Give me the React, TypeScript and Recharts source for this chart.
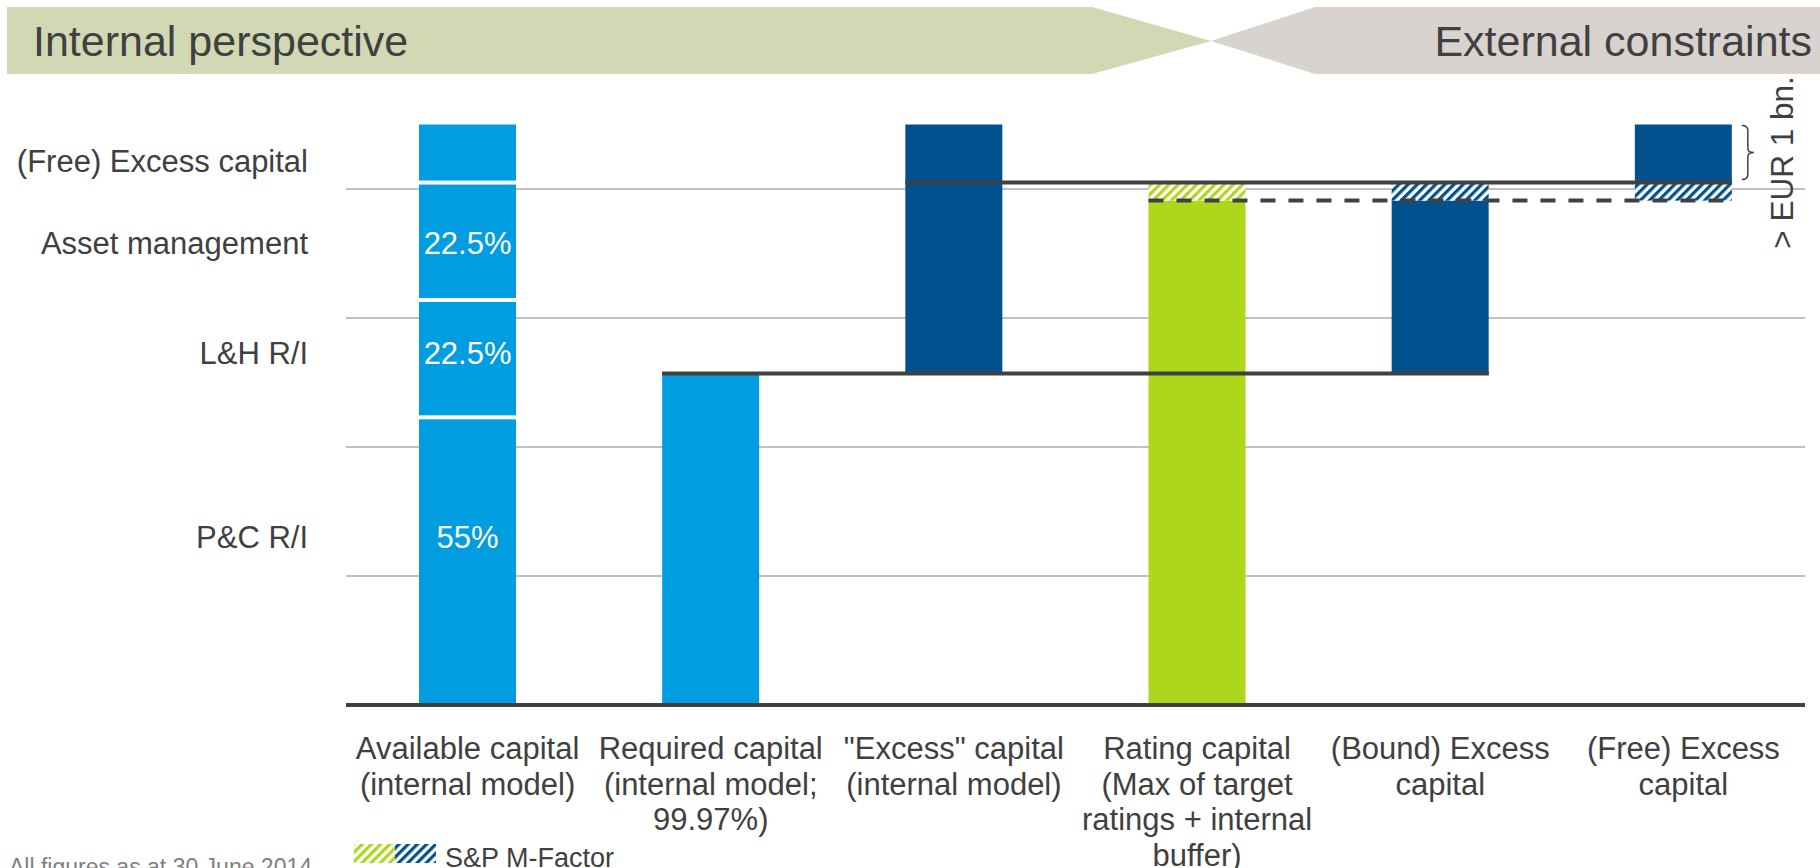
import React from "react";
import {
  ComposedChart,
  Bar,
  XAxis,
  YAxis,
  CartesianGrid,
  ReferenceLine,
  ReferenceDot,
} from "recharts";

const FONT = '"Liberation Sans", Arial, sans-serif';
const TEXT = "#404040";
const LIGHT_BLUE = "#009EE0";
const DARK_BLUE = "#00518E";
const GREEN = "#ADD71A";

// x-axis categories (line breaks as in the slide)
const categories = [
  "Available capital\n(internal model)",
  "Required capital\n(internal model;\n99.97%)",
  '"Excess" capital\n(internal model)',
  "Rating capital\n(Max of target\nratings + internal\nbuffer)",
  "(Bound) Excess\ncapital",
  "(Free) Excess\ncapital",
];

// stacked segments, one value per category
const baseGap = [0, 0, 2.57, 0, 2.57, 3.91];
const pcRI = [2.23, 0, 0, 0, 0, 0];
const lhRI = [0.91, 0, 0, 0, 0, 0];
const assetMgmt = [0.91, 0, 0, 0, 0, 0];
const freeShare = [0.45, 0, 0, 0, 0, 0];
const required = [0, 2.57, 0, 0, 0, 0];
const excessDark = [0, 0, 1.93, 0, 1.34, 0];
const rating = [0, 0, 0, 3.91, 0, 0];
const mFactorGreen = [0, 0, 0, 0.14, 0, 0];
const mFactorBlue = [0, 0, 0, 0, 0.14, 0.14];
const freeTop = [0, 0, 0, 0, 0, 0.45];

// left-hand row labels and the share labels inside the first bar
const rowLabels = ["(Free) Excess capital", "Asset management", "L&H R/I", "P&C R/I"];
const rowLabelValues = [4.22, 3.58, 2.73, 1.3];
const shareLabels = ["22.5%", "22.5%", "55%"];
const shareLabelValues = [3.58, 2.73, 1.3];
const gridValues = [1, 2, 3, 4];

// connector lines between bars
const connectorLevels = [2.57, 4.05, 3.91];
const connectorFrom = [1, 2, 3];
const connectorTo = [4, 5, 5];

const HALF_BAR = 0.2; // half bar width in category units
const BAR_PX = 97;

const rows = categories.map((name, i) => ({
  x: i,
  name,
  base: baseGap[i],
  pc: pcRI[i],
  lh: lhRI[i],
  am: assetMgmt[i],
  free: freeShare[i],
  req: required[i],
  dark: excessDark[i],
  rating: rating[i],
  mGreen: mFactorGreen[i],
  mBlue: mFactorBlue[i],
  top: freeTop[i],
}));

const norm = (p: any) => {
  const left = Math.min(p.x, p.x + p.width);
  const top = Math.min(p.y, p.y + p.height);
  return { left, top, w: Math.abs(p.width), h: Math.abs(p.height) };
};

const SegShape = (props: any) => {
  const { fill, trimTop = 0, trimBottom = 0 } = props;
  const { left, top, w, h } = norm(props);
  if (!h || !w) return <g />;
  return (
    <rect
      x={left}
      y={top + trimTop}
      width={w}
      height={Math.max(0, h - trimTop - trimBottom)}
      fill={fill}
    />
  );
};

const FreeTopShape = (props: any) => {
  const { fill } = props;
  const { left, top: t, w, h } = norm(props);
  if (!h || !w) return <g />;
  const bx = left + w + 10;
  const top = t + 1;
  const bottom = t + h - 3;
  const mid = (top + bottom) / 2;
  const d = `M${bx},${top} Q${bx + 6},${top} ${bx + 6},${top + 5} L${bx + 6},${mid - 4} Q${bx + 6},${mid} ${bx + 12},${mid} Q${bx + 6},${mid} ${bx + 6},${mid + 4} L${bx + 6},${bottom - 5} Q${bx + 6},${bottom} ${bx},${bottom}`;
  return (
    <g>
      <rect x={left} y={t} width={w} height={h} fill={fill} />
      <path d={d} fill="none" stroke={TEXT} strokeWidth={1.5} />
      <text
        transform={`translate(${left + w + 61}, ${mid + 10}) rotate(-90)`}
        textAnchor="middle"
        fontSize={31.5}
        fontFamily={FONT}
        fill={TEXT}
      >
        {"> EUR 1 bn."}
      </text>
    </g>
  );
};

const CategoryTick = (props: any) => {
  const { x, y, payload } = props;
  const lines = (categories[payload.value] || "").split("\n");
  return (
    <text x={x} y={y} textAnchor="middle" fontSize={31} fontFamily={FONT} fill={TEXT}>
      {lines.map((l, i) => (
        <tspan key={i} x={x} y={y + 54 + i * 35.5}>
          {l}
        </tspan>
      ))}
    </text>
  );
};

export default function App() {
  return (
    <div
      style={{
        position: "absolute",
        left: 0,
        top: 0,
        width: 1820,
        height: 868,
        background: "#fff",
        fontFamily: FONT,
        overflow: "hidden",
      }}
    >
      <svg width={0} height={0} style={{ position: "absolute" }}>
        <defs>
          <pattern id="hatchGreen" width="6.5" height="6.5" patternUnits="userSpaceOnUse" patternTransform="rotate(45)">
            <rect width="6.5" height="6.5" fill="#fff" />
            <rect width="3.2" height="6.5" fill={GREEN} />
          </pattern>
          <pattern id="hatchBlue" width="6.5" height="6.5" patternUnits="userSpaceOnUse" patternTransform="rotate(45)">
            <rect width="6.5" height="6.5" fill="#fff" />
            <rect width="3.2" height="6.5" fill={DARK_BLUE} />
          </pattern>
        </defs>
      </svg>

      <svg width={1820} height={80} style={{ position: "absolute", left: 0, top: 0 }}>
        <polygon points="7,7 1092,7 1211,41 1092,74 7,74" fill="#D0D8B4" />
        <polygon points="1315,7 1820,7 1820,74 1315,74 1211,41" fill="#D8D3CF" />
        <text x={33} y={56} fontSize={43} fontFamily={FONT} fill={TEXT}>
          Internal perspective
        </text>
        <text x={1812} y={56} fontSize={43} fontFamily={FONT} fill={TEXT} textAnchor="end">
          External constraints
        </text>
      </svg>

      <ComposedChart
        width={1820}
        height={868}
        data={rows}
        margin={{ top: 60, right: 15, bottom: 0, left: 0 }}
        barSize={BAR_PX}
      >
        <CartesianGrid vertical={false} horizontalValues={gridValues} stroke="#C0C0C0" strokeWidth={2} />
        <XAxis
          type="number"
          dataKey="x"
          domain={[-0.5, 5.5]}
          allowDataOverflow
          ticks={[0, 1, 2, 3, 4, 5]}
          interval={0}
          height={163}
          tickSize={0}
          tickMargin={0}
          tickLine={false}
          axisLine={{ stroke: TEXT, strokeWidth: 4 }}
          tick={<CategoryTick />}
        />
        <YAxis
          type="number"
          domain={[0, 5]}
          allowDataOverflow
          ticks={rowLabelValues}
          interval={0}
          width={346}
          axisLine={false}
          tickLine={false}
          tickSize={0}
          tickMargin={38}
          tick={{ fontSize: 31, fill: TEXT, fontFamily: FONT }}
          tickFormatter={(v: number) => rowLabels[rowLabelValues.indexOf(v)] ?? ""}
        />
        <Bar dataKey="base" stackId="s" fill="none" isAnimationActive={false} shape={<SegShape />} />
        <Bar dataKey="pc" stackId="s" fill={LIGHT_BLUE} isAnimationActive={false} shape={<SegShape trimTop={2} />} />
        <Bar dataKey="lh" stackId="s" fill={LIGHT_BLUE} isAnimationActive={false} shape={<SegShape trimTop={2} trimBottom={2} />} />
        <Bar dataKey="am" stackId="s" fill={LIGHT_BLUE} isAnimationActive={false} shape={<SegShape trimTop={2} trimBottom={2} />} />
        <Bar dataKey="free" stackId="s" fill={LIGHT_BLUE} isAnimationActive={false} shape={<SegShape trimBottom={2} />} />
        <Bar dataKey="req" stackId="s" fill={LIGHT_BLUE} isAnimationActive={false} shape={<SegShape />} />
        <Bar dataKey="dark" stackId="s" fill={DARK_BLUE} isAnimationActive={false} shape={<SegShape />} />
        <Bar dataKey="rating" stackId="s" fill={GREEN} isAnimationActive={false} shape={<SegShape />} />
        <Bar dataKey="mGreen" stackId="s" fill="url(#hatchGreen)" isAnimationActive={false} shape={<SegShape />} />
        <Bar dataKey="mBlue" stackId="s" fill="url(#hatchBlue)" isAnimationActive={false} shape={<SegShape />} />
        <Bar dataKey="top" stackId="s" fill={DARK_BLUE} isAnimationActive={false} shape={<FreeTopShape />} />
        {connectorLevels.map((lvl, i) => (
          <ReferenceLine
            key={`c${i}`}
            segment={[
              { x: connectorFrom[i] - HALF_BAR, y: lvl },
              { x: connectorTo[i] + HALF_BAR, y: lvl },
            ]}
            stroke={TEXT}
            strokeWidth={4}
            strokeDasharray={i === 2 ? "15 13" : undefined}
            ifOverflow="visible"
          />
        ))}
        {shareLabels.map((t, i) => (
          <ReferenceDot
            key={`l${i}`}
            x={0}
            y={shareLabelValues[i]}
            r={0}
            fill="none"
            stroke="none"
            label={{ value: t, position: "center", fill: "#fff", fontSize: 31, fontFamily: FONT }}
          />
        ))}
      </ComposedChart>

      <svg width={1820} height={868} style={{ position: "absolute", left: 0, top: 0, pointerEvents: "none" }}>
        <text x={9} y={875} fontSize={23} fontFamily={FONT} fill="#7F7F7F">
          All figures as at 30 June 2014
        </text>
        <rect x={354} y={844} width={41} height={19} fill="url(#hatchGreen)" />
        <rect x={395} y={844} width={41} height={19} fill="url(#hatchBlue)" />
        <text x={445} y={867} fontSize={27} fontFamily={FONT} fill={TEXT}>
          S&amp;P M-Factor
        </text>
      </svg>
    </div>
  );
}
